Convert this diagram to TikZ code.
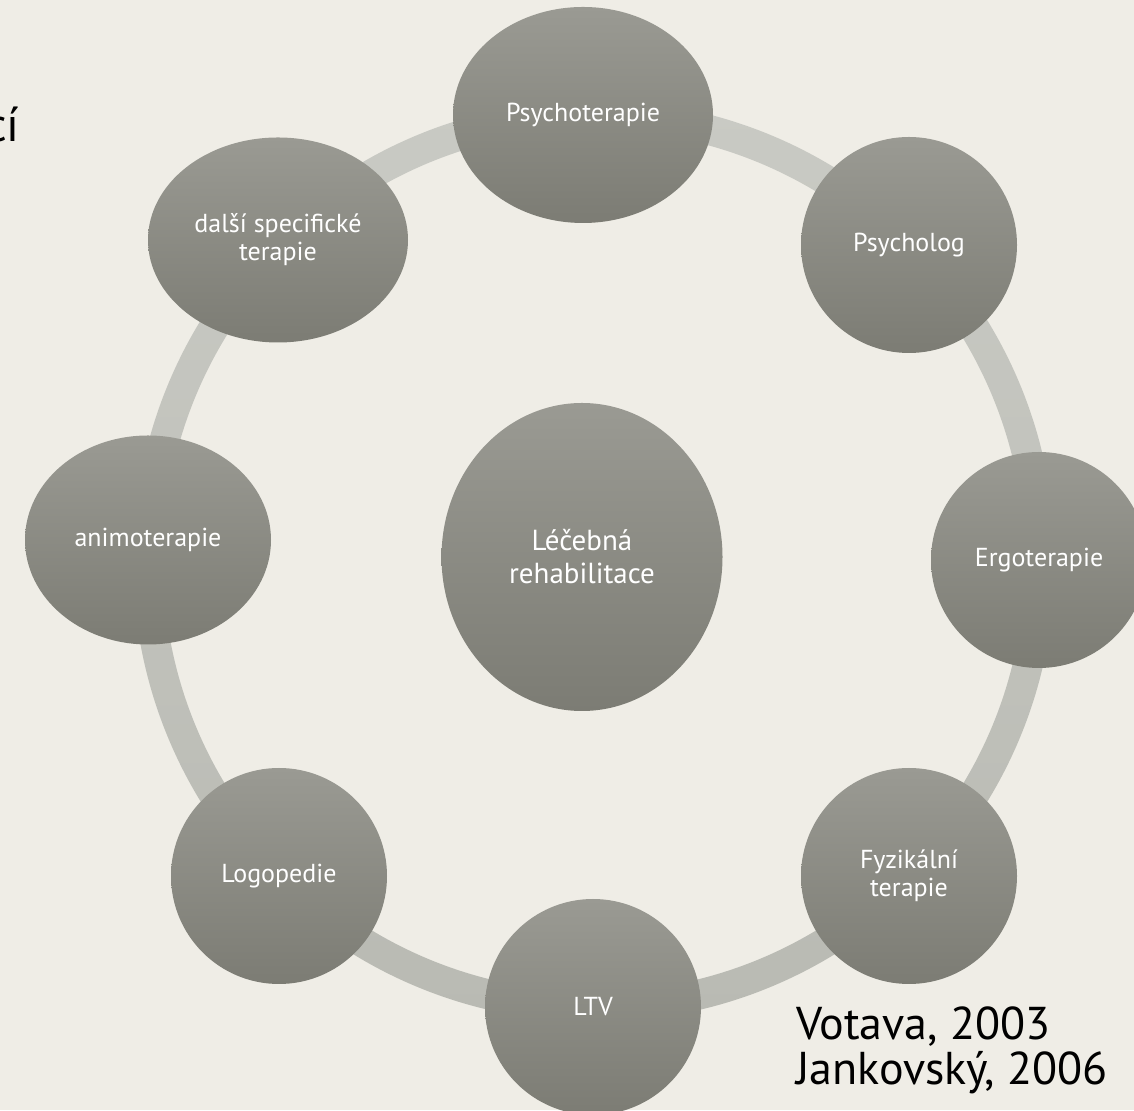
\documentclass[tikz,border=0pt]{standalone}
\usepackage{fontspec}
\setmainfont{PT Sans}
\usepackage{xcolor}
\usetikzlibrary{shapes.geometric,positioning}

\definecolor{slidebg}{HTML}{EFEDE6}
\definecolor{bubbletop}{HTML}{9A9A93}
\definecolor{bubblebot}{HTML}{7C7C74}
\definecolor{ringtop}{HTML}{C9CAC4}
\definecolor{ringbot}{HTML}{B9BAB3}

\begin{document}
\begin{tikzpicture}[x=1pt, y=1pt,
		bubble/.style={ellipse, inner sep=0pt, minimum width=216pt, minimum height=216pt,
			top color=bubbletop, bottom color=bubblebot, text=white, align=center,
			font=\fontsize{26}{28}\selectfont},
		note/.style={inner sep=0pt, text=black, align=left, font=\fontsize{46}{45}\selectfont}]
		\fill[slidebg] (0,0) rectangle (1134,1110);
		\useasboundingbox (0,0) rectangle (1134,1110);

		% the ring behind the bubbles
		\coordinate (mid) at (594,549);
		\shade[top color=ringtop, bottom color=ringbot, even odd rule]
			(mid) circle (461) (mid) circle (431);

		\node[bubble, minimum width=281pt, minimum height=308pt,
			font=\fontsize{29}{33}\selectfont] (lecba) at (582,553) {Léčebná\\rehabilitace};

		\node[bubble, minimum width=260pt] (psychoterapie) at (583,995) {Psychoterapie};
		\node[bubble] (psycholog) at (909,865) {Psycholog};
		\node[bubble] (ergo) at (1039,550) {Ergoterapie};
		\node[bubble] (fyzio) at (909,234) {Fyzikální\\terapie};
		\node[bubble] (ltv) at (593,103) {LTV};
		\node[bubble] (logo) at (279,234) {Logopedie};
		\node[bubble, minimum width=246pt, minimum height=209pt] (animo) at (148,570) {animoterapie};
		\node[bubble, minimum width=260pt, minimum height=205pt] (dalsi) at (278,870) {další specifické\\terapie};

		\node[note, anchor=base east, font=\fontsize{48}{52}\selectfont] (nadpis) at (20,968) {cí};
		\node[note, anchor=north west] (zdroje) at (796,103) {Votava, 2003\\Jankovský, 2006};
	\end{tikzpicture}
\end{document}
